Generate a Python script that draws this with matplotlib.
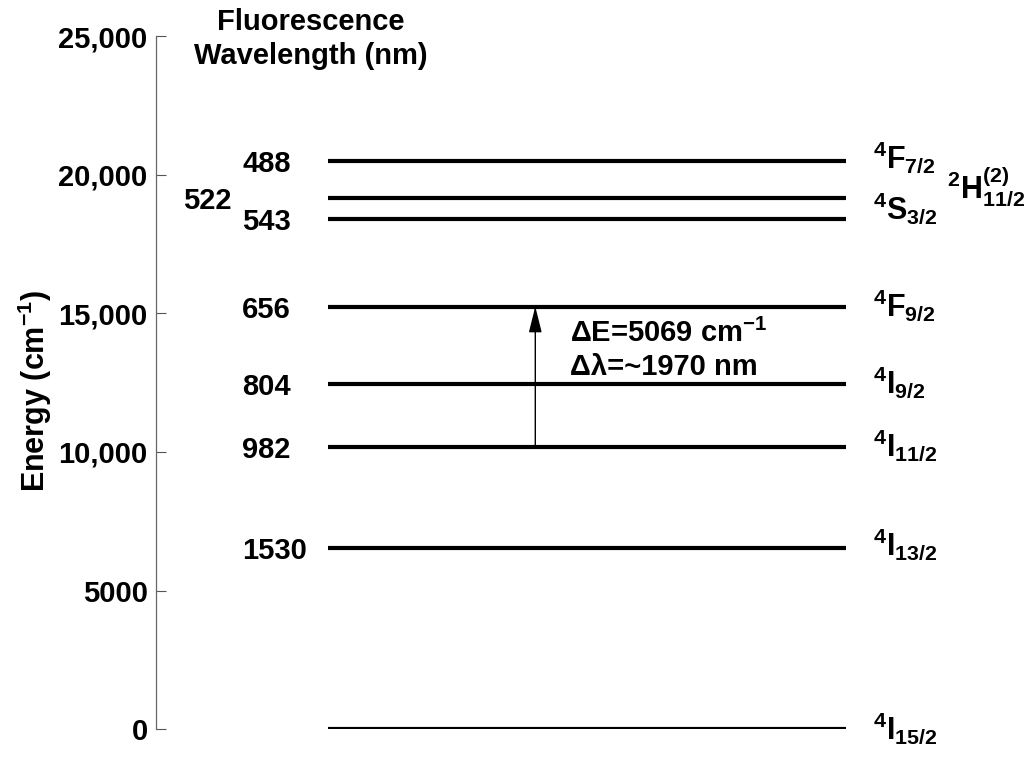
import matplotlib
matplotlib.use('Agg')
import matplotlib.pyplot as plt

# fluorescence wavelength (nm) shown next to each excited level
wavelengths = ['488', '522', '543', '656', '804', '982', '1530']
# level energies (cm^-1), top to bottom, ground state last
energies = [20492, 19157, 18416, 15244, 12438, 10183, 6536, 0]
# term symbols for each level, same order as energies
terms = [
    r'$^{4}F_{7/2}$', r'$^{2}H^{(2)}_{11/2}$', r'$^{4}S_{3/2}$', r'$^{4}F_{9/2}$',
    r'$^{4}I_{9/2}$', r'$^{4}I_{11/2}$', r'$^{4}I_{13/2}$', r'$^{4}I_{15/2}$',
]
yticks = [0, 5000, 10000, 15000, 20000, 25000]
ytick_labels = ['0', '5000', '10,000', '15,000', '20,000', '25,000']

# arrow between 4I11/2 and 4F9/2
arrow_from = 10183
arrow_to = 15244
delta_lines = ['ΔE=5069 cm$^{-1}$', 'Δλ=~1970 nm']

plt.rcParams['font.family'] = 'Liberation Sans'
plt.rcParams['font.weight'] = 'bold'
plt.rcParams['mathtext.fontset'] = 'custom'
plt.rcParams['mathtext.rm'] = 'Liberation Sans:bold'
plt.rcParams['mathtext.it'] = 'Liberation Sans:bold'
plt.rcParams['mathtext.bf'] = 'Liberation Sans:bold'
plt.rcParams['mathtext.default'] = 'bf'

FS = 21

fig = plt.figure(figsize=(10.34, 7.58), dpi=100)
ax = fig.add_axes([156 / 1034, (758 - 729.3) / 758, 878 / 1034, 693.3 / 758])
ax.set_xlim(0, 10)
ax.set_ylim(0, 25000)

# energy levels (ground state is half clipped by the axis, as in the original)
x0, x1 = 1.96, 7.86
for e in energies:
    ax.plot([x0, x1], [e, e], color='black', lw=3.0, solid_capstyle='butt')

# wavelength labels on the left of the levels
for i, w in enumerate(wavelengths):
    x = 0.31 if w == '522' else 0.98
    ax.text(x, energies[i], w, fontsize=FS, ha='left', va='center_baseline')

# term symbols on the right (offset in points below the level)
offsets = [5, 0, 0, 6.5, 6.5, 6.5, 5, 7]
for i, t in enumerate(terms):
    x = 9.01 if 'H' in t else 8.17
    ax.annotate(t, xy=(x, energies[i]), xytext=(0, -offsets[i]), textcoords='offset points',
                fontsize=22, ha='left', va='baseline')

# transition arrow
ax.annotate('', xy=(4.32, arrow_to), xytext=(4.32, arrow_from),
            arrowprops=dict(arrowstyle='-|>,head_length=1.6,head_width=0.4', color='black',
                            lw=1.0, shrinkA=0, shrinkB=0))
ax.text(4.72, 13966, delta_lines[0], fontsize=FS, ha='left', va='baseline')
ax.text(4.72, 12776, delta_lines[1], fontsize=FS, ha='left', va='baseline')

# axis styling
ax.set_yticks(yticks)
ax.set_yticklabels(ytick_labels, fontsize=FS, fontweight='bold')
ax.tick_params(axis='y', direction='in', length=7, width=0.8, color='#555555', pad=6)
ax.set_xticks([])
for s in ['top', 'right', 'bottom']:
    ax.spines[s].set_visible(False)
ax.spines['left'].set_color('#666666')
ax.spines['left'].set_linewidth(0.9)
ax.set_ylabel('Energy (cm$^{-1}$)', fontsize=22, fontweight='bold')
ax.yaxis.set_label_coords(-0.116, 0.488)

fig.text(311 / 1034, 1 - 8 / 758, 'Fluorescence\nWavelength (nm)', ha='center', va='top',
         fontsize=FS, fontweight='bold', linespacing=1.25)

fig.savefig('out.png', dpi=100)
